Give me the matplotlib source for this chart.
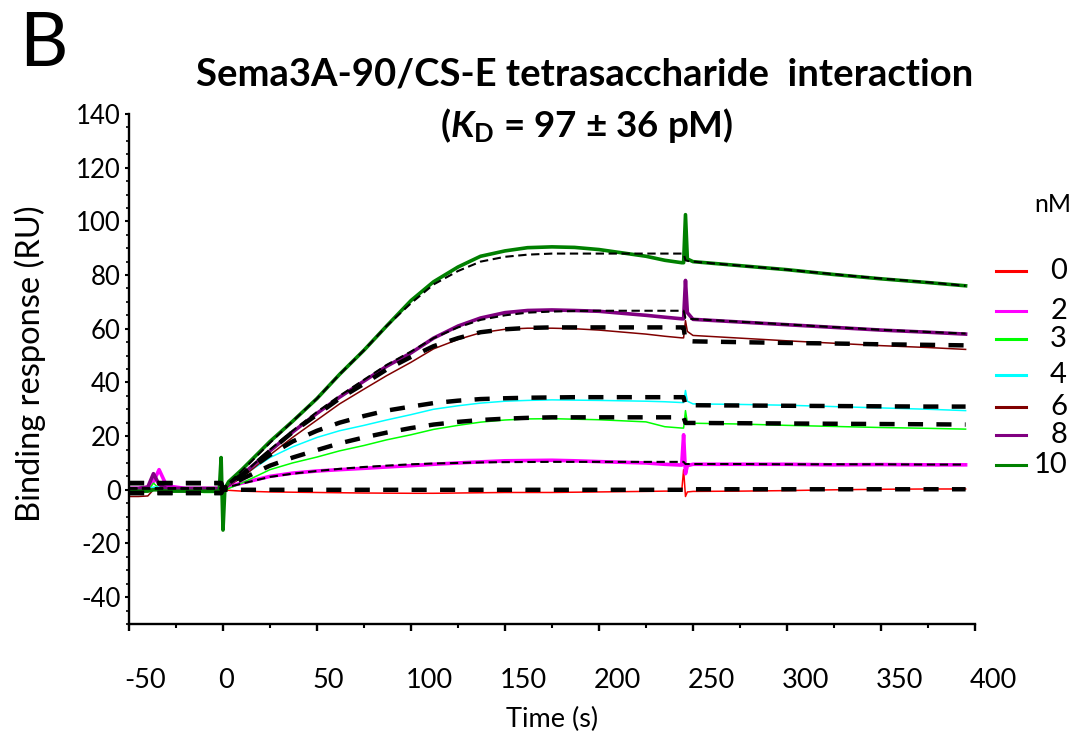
import matplotlib
matplotlib.use("Agg")
import matplotlib.pyplot as plt
from matplotlib.lines import Line2D
from matplotlib.ticker import MultipleLocator
from matplotlib.transforms import ScaledTranslation

plt.rcParams['font.family'] = ['Lato', 'DejaVu Sans']
plt.rcParams['axes.unicode_minus'] = False
plt.rcParams['mathtext.fontset'] = 'custom'
plt.rcParams['mathtext.rm'] = 'Lato'
plt.rcParams['mathtext.it'] = 'Lato:italic'
plt.rcParams['mathtext.bf'] = 'Lato:bold'
plt.rcParams['mathtext.bfit'] = 'Lato:italic:bold'

# ---------------- data ----------------
time_s = [-50, -45, -40, -37, -34, -30, -20, -10, -2, -1,
          0, 1, 3, 10, 25, 37, 50, 62, 75, 87,
          100, 112, 125, 137, 150, 162, 175, 187, 200, 225,
          235, 244, 245, 246, 247, 250, 275, 300, 325, 350,
          375, 395]

conc_labels = ['0', '2', '3', '4', '6', '8', '10']
series_colors = ['#FF0000', '#FF00FF', '#00FF00', '#00FFFF', '#800000', '#800080', '#008000']

resp_0nM = [0, 0, 0.3, 0.5, 0.5, 0.3, 0, 0, 0, 0,
            0, 0, -0.2, -0.5, -0.8, -0.9, -1, -1.1, -1.2, -1.25,
            -1.3, -1.3, -1.2, -1.1, -1, -1, -1, -0.9, -0.8, -0.6,
            -0.5, -0.5, 7.5, -2.5, -0.8, -0.6, -0.5, -0.3, 0, 0.2,
            0.3, 0.3]
resp_2nM = [0.5, 0.5, 1, 3, 7.5, 1.5, 0.5, 0.5, 0.5, 0.5,
            0.5, 0.8, 1.2, 2.5, 5, 6.2, 7, 7.5, 8, 8.5,
            9, 9.5, 10, 10.4, 10.8, 10.9, 11, 10.8, 10.5, 10,
            9.5, 9.2, 20.5, 6, 9, 9.5, 9.5, 9.5, 9.3, 9.4,
            9.3, 9.3]
resp_3nM = [-1, -1, -0.5, 2.5, 0.5, -0.5, -0.5, -1, -1, -1,
            -1, -0.5, 0.5, 2.5, 7.5, 10, 12.2, 14.5, 16.5, 18.6,
            20.5, 22.5, 24, 25.2, 26, 26.4, 26.5, 26.3, 26.1, 25.3,
            23.5, 23, 23, 29.5, 25, 24.8, 24.5, 24, 23.6, 23.2,
            22.9, 22.6]
resp_4nM = [0.5, 0.5, 0.5, 1, 1, 0.5, 0.5, 0.5, 0.5, 0.5,
            0.5, 1, 2, 5, 12, 16, 19.5, 22, 24, 26,
            28, 30, 31.3, 32.3, 33, 33.3, 33.5, 33.4, 33.3, 33,
            32.8, 32.5, 32.5, 37, 33, 32, 31.8, 31.5, 31, 30.5,
            30, 29.5]
resp_6nM = [-2.5, -2.5, -2.3, 0, 0.5, 0.3, 0, 0, 0, 0,
            0, 0.5, 1.5, 4.5, 13, 19.5, 26, 32, 37.5, 42.5,
            47.5, 52.5, 56, 58.5, 59.8, 60.2, 60.2, 60, 59.5, 58,
            57.2, 56.6, 56.6, 63, 59, 57.5, 56.5, 55.5, 54.6, 53.7,
            53, 52.3]
resp_8nM = [0.5, 0.5, 1, 6, 2, 0.5, 0.5, 0.5, 0.5, 0.5,
            0.5, 1, 2, 5.5, 14.5, 21.5, 28.5, 34.5, 40.5, 46,
            51, 56.5, 61, 64, 66, 66.8, 67, 66.8, 66.5, 65,
            64.3, 63.7, 63.7, 78, 66, 63.5, 62.5, 61.5, 60.5, 59.5,
            58.7, 58]
resp_10nM = [-0.5, -0.5, -0.5, 0, 0, -0.5, -0.5, -0.5, -0.5, 12,
             -15, 0.5, 3, 7.5, 18, 25.5, 34, 43, 52, 61,
             70.5, 77.5, 83, 87, 89, 90.2, 90.5, 90.3, 89.5, 87,
             85.5, 84.6, 84.6, 102.5, 86, 85, 83.5, 82, 80.2, 78.6,
             77.2, 76]

fit_0nM = [-1.2, -1.2, -1.2, -1.2, -1.2, -1.2, -1.2, -1.2, -1.2, -1.2,
           0, 0, 0, 0, 0, 0, 0, 0, 0, 0,
           0, 0, 0, 0, 0, 0, 0, 0, 0, 0,
           0, 0, 0, 0.2, 0.2, 0.2, 0.2, 0.2, 0.2, 0.2,
           0.2, 0.2]
fit_2nM = [0.5, 0.5, 0.5, 0.5, 0.5, 0.5, 0.5, 0.5, 0.5, 0.5,
           0.5, 0.7, 1.1, 2.3, 4.8, 6, 7, 7.8, 8.5, 9,
           9.5, 9.8, 10, 10.2, 10.3, 10.35, 10.4, 10.4, 10.4, 10.4,
           10.4, 10.4, 10.4, 9.6, 9.6, 9.6, 9.6, 9.5, 9.5, 9.5,
           9.4, 9.4]
fit_3nM = [-1.2, -1.2, -1.2, -1.2, -1.2, -1.2, -1.2, -1.2, -1.2, -1.2,
           0, 0.5, 1.3, 4, 9, 12, 14.8, 17.3, 19.5, 21.3,
           23, 24.3, 25.3, 26, 26.5, 26.8, 27, 27, 27, 27,
           27, 27, 27, 24.9, 24.9, 24.9, 24.8, 24.7, 24.6, 24.5,
           24.4, 24.3]
fit_4nM = [2.5, 2.5, 2.5, 2.5, 2.5, 2.5, 2.5, 2.5, 2.5, 2.5,
           0.5, 1, 2, 5.5, 13, 18, 22, 25, 27.5, 29.5,
           31, 32.3, 33.2, 33.8, 34.1, 34.3, 34.4, 34.5, 34.5, 34.5,
           34.5, 34.5, 34.5, 31.5, 31.5, 31.5, 31.4, 31.3, 31.2, 31.1,
           31, 31]
fit_6nM = [2.5, 2.5, 2.5, 2.5, 2.5, 2.5, 2.5, 2.5, 2.5, 2.5,
           0.5, 1, 2, 5.5, 14.5, 21.5, 28, 34, 39.5, 44.8,
           49.5, 53.5, 56.5, 58.7, 59.8, 60.3, 60.5, 60.5, 60.5, 60.5,
           60.5, 60.5, 60.5, 55.5, 55.4, 55.3, 55, 54.7, 54.5, 54.2,
           54, 53.8]
fit_8nM = [0.5, 0.5, 0.5, 0.5, 0.5, 0.5, 0.5, 0.5, 0.5, 0.5,
           0.5, 1, 2, 5.5, 15, 22, 29, 35, 41, 46.5,
           51.5, 56.5, 60.5, 63.3, 65, 66, 66.4, 66.6, 66.7, 66.7,
           66.7, 66.7, 66.7, 64, 63.8, 63.6, 62.6, 61.6, 60.6, 59.6,
           58.8, 58.2]
fit_10nM = [0.5, 0.5, 0.5, 0.5, 0.5, 0.5, 0.5, 0.5, 0.5, 0.5,
            0.5, 1, 2.5, 7, 17.5, 25.5, 34, 43, 52, 61,
            69.5, 76.5, 81.5, 85, 86.8, 87.6, 88, 88, 88, 88,
            88, 88, 88, 85.5, 85.3, 85, 83.5, 82, 80.3, 78.7,
            77.3, 76]

responses = [resp_0nM, resp_2nM, resp_3nM, resp_4nM, resp_6nM, resp_8nM, resp_10nM]
fits = [fit_0nM, fit_2nM, fit_3nM, fit_4nM, fit_6nM, fit_8nM, fit_10nM]
thick_series = [False, True, False, False, False, True, True]

# ---------------- figure ----------------
fig = plt.figure(figsize=(10.8, 7.37), dpi=100)
W, H = 1080, 737
ax = fig.add_axes([129 / W, 1 - 624 / H, (975 - 129) / W, (624 - 114) / H])

for resp, col, thick in zip(responses, series_colors, thick_series):
    ax.plot(time_s, resp, color=col, lw=2.6 if thick else 1.1, zorder=2,
            solid_joinstyle='round')

for fit, thick in zip(fits, thick_series):
    if thick:
        ax.plot(time_s, fit, color='black', lw=1.5, dashes=(4.0, 2.2), zorder=3)
    else:
        ax.plot(time_s, fit, color='black', lw=3.2, dashes=(3.4, 3.0), zorder=3)

ax.set_xlim(-50, 400)
ax.set_ylim(-50, 140)
ax.xaxis.set_major_locator(MultipleLocator(50))
ax.xaxis.set_minor_locator(MultipleLocator(25))
ax.yaxis.set_major_locator(MultipleLocator(20))
ax.yaxis.set_minor_locator(MultipleLocator(5))
for s in ['top', 'right']:
    ax.spines[s].set_visible(False)
for s in ['left', 'bottom']:
    ax.spines[s].set_linewidth(1.7)

ax.tick_params(axis='x', which='major', direction='out', length=5, width=1.7,
               labelsize=19.5, pad=27)
ax.tick_params(axis='x', which='minor', direction='out', length=3, width=1.5)
ax.tick_params(axis='y', which='major', direction='out', length=3, width=1.5,
               labelsize=18.5, pad=3)
ax.tick_params(axis='y', which='minor', direction='out', length=2, width=1.2)

# x tick labels start just left of their tick, as in the reference
shift = ScaledTranslation(-5 / 100, 0, fig.dpi_scale_trans)
for lab in ax.get_xticklabels():
    lab.set_horizontalalignment('left')
    lab.set_transform(lab.get_transform() + shift)

ax.set_xlabel('Time (s)', fontsize=19.5)
ax.xaxis.set_label_coords(0.5, -0.163)
ax.set_ylabel('Binding response (RU)', fontsize=23.5)
ax.yaxis.set_label_coords(-0.098, 0.51)

# titles
fig.text(19 / W, 1 - 66 / H, 'B', fontsize=54, ha='left', va='baseline')
fig.text(585 / W, 1 - 86 / H, 'Sema3A-90/CS-E tetrasaccharide  interaction',
         fontsize=27.5, fontweight='bold', ha='center', va='baseline')
fig.text(587 / W, 1 - 137 / H, r'($\mathbfit{K}_{\mathbf{D}}$ = 97 ± 36 pM)',
         fontsize=26.5, fontweight='bold', ha='center', va='baseline')

# legend
legend_rows_px = [270.7, 310.7, 338.7, 374.7, 406.7, 434.7, 465.0]
fig.text(1053 / W, 1 - 205 / H, 'nM', fontsize=18, ha='center', va='center')
for lab, col, ypx in zip(conc_labels, series_colors, legend_rows_px):
    yf = 1 - ypx / H
    fig.add_artist(Line2D([996 / W, 1026 / W], [yf, yf], color=col, lw=2.2,
                          transform=fig.transFigure))
    fig.text(1067 / W, yf, lab, fontsize=21, ha='right', va='center')

fig.savefig('out.png', dpi=100)
